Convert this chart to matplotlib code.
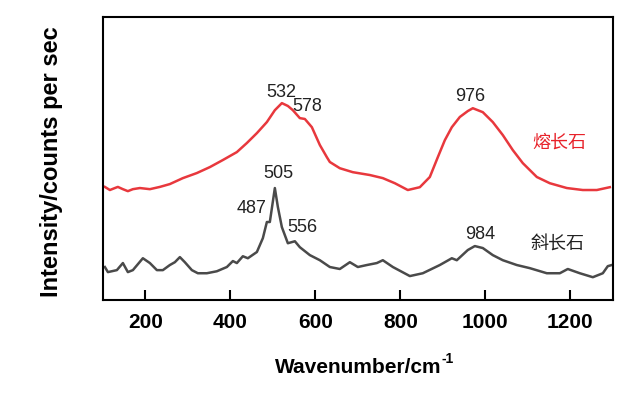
import matplotlib
matplotlib.use("Agg")
import matplotlib.pyplot as plt

plt.rcParams['font.family'] = ['Liberation Sans', 'Noto Sans CJK SC', 'DejaVu Sans']

# Red curve (熔长石)
red_wn = [104.7, 116.5, 128.2, 135.3, 147.1, 158.8, 170.6, 187.1, 210.6, 234.1, 257.6,
          288.2, 321.2, 351.8, 382.4, 415.3, 438.8, 462.4, 485.9, 504.7, 521.2, 535.3,
          547.1, 563.5, 575.3, 591.8, 610.6, 627.1, 634.1, 657.6, 688.2, 728.2, 758.8,
          787.1, 817.6, 845.9, 869.4, 888.2, 904.7, 921.2, 940.0, 958.8, 970.6, 994.1,
          1017.6, 1041.2, 1064.7, 1088.2, 1121.2, 1151.8, 1191.8, 1229.4, 1262.4, 1293.0]
red_int = [40.0, 38.9, 39.6, 40.0, 39.2, 38.5, 39.2, 39.6, 39.2, 40.0, 41.0,
           43.1, 44.9, 47.0, 49.5, 52.3, 55.5, 59.0, 62.9, 67.1, 69.6, 68.6,
           67.1, 64.3, 64.0, 61.1, 54.8, 50.5, 48.8, 46.6, 45.2, 44.2, 43.1,
           41.3, 38.9, 39.9, 43.5, 50.5, 56.5, 61.1, 64.7, 66.8, 67.8, 66.4,
           62.9, 58.3, 53.0, 48.4, 43.5, 41.3, 39.6, 38.9, 38.9, 39.9]

# Gray curve (斜长石)
gray_wn = [104.7, 111.8, 132.9, 147.1, 158.8, 170.6, 194.1, 210.6, 227.1, 241.2, 257.6,
           269.4, 281.2, 292.9, 309.4, 323.5, 344.7, 368.2, 391.8, 405.9, 415.3, 429.4,
           441.2, 462.4, 476.5, 485.9, 492.9, 504.7, 511.8, 521.2, 535.3, 551.8, 563.5,
           587.1, 610.6, 634.1, 657.6, 681.2, 700.0, 721.2, 744.7, 758.8, 782.4, 822.4,
           852.9, 892.9, 921.2, 932.9, 958.8, 975.3, 994.1, 1017.6, 1041.2, 1074.1,
           1104.7, 1144.7, 1175.3, 1194.1, 1222.4, 1253.0, 1276.5, 1288.2, 1297.6]
gray_int = [11.7, 9.9, 10.6, 13.1, 9.9, 10.6, 14.8, 13.1, 10.6, 10.6, 12.4,
            13.4, 15.2, 13.4, 10.6, 9.5, 9.5, 10.2, 11.7, 13.8, 13.1, 15.5,
            14.8, 17.0, 21.9, 27.6, 27.6, 39.6, 32.9, 25.8, 20.1, 20.8, 18.7,
            15.9, 14.1, 11.7, 11.0, 13.4, 11.7, 12.4, 13.1, 14.1, 11.7, 8.5,
            9.5, 12.4, 14.8, 14.1, 17.7, 19.1, 18.4, 15.9, 14.1, 12.4,
            11.3, 9.5, 9.5, 11.0, 9.5, 8.1, 9.5, 12.0, 12.4]

red_labels = ["532", "578", "976"]
red_label_x = [519, 582, 963.5]
red_label_y = [73.5, 68.5, 72.1]
gray_labels = ["505", "487", "556", "984"]
gray_label_x = [512, 450.6, 570.6, 987]
gray_label_y = [44.9, 32.5, 25.6, 23.3]
red_name, red_name_xy = "熔长石", (1175, 55.8)
gray_name, gray_name_xy = "斜长石", (1170.6, 19.8)

xticks = [200, 400, 600, 800, 1000, 1200]

fig = plt.figure(figsize=(6.39, 3.97), dpi=100)
ax = fig.add_axes([0.161, 0.244, 0.798, 0.713])

red_c = '#e8383d'
gray_c = '#4a4a4a'
ax.plot(red_wn, red_int, color=red_c, lw=1.8, solid_joinstyle='round')
ax.plot(gray_wn, gray_int, color=gray_c, lw=1.8, solid_joinstyle='round')

for t, x, y in zip(red_labels, red_label_x, red_label_y):
    ax.text(x, y, t, ha='center', va='center', fontsize=13, color='#222222')
for t, x, y in zip(gray_labels, gray_label_x, gray_label_y):
    ax.text(x, y, t, ha='center', va='center', fontsize=13, color='#222222')
ax.text(*red_name_xy, red_name, ha='center', va='center', fontsize=13, color='#e8222a',
        family=['Noto Sans CJK SC'])
ax.text(*gray_name_xy, gray_name, ha='center', va='center', fontsize=13, color='#222222',
        family=['Noto Sans CJK SC'])

ax.set_xlim(100, 1300)
ax.set_ylim(0, 100)
ax.set_xticks(xticks)
ax.set_yticks([])
ax.tick_params(axis='x', direction='in', length=7, width=1.5, pad=9, labelsize=15)
for lab in ax.get_xticklabels():
    lab.set_fontweight('bold')
for s in ax.spines.values():
    s.set_linewidth(1.5)

xl = ax.set_xlabel('Wavenumber/cm', fontsize=15, fontweight='bold', labelpad=19)
ax.annotate('-1', xy=(1, 0.6), xycoords=xl, xytext=(0.3, 0), textcoords='offset points',
            fontsize=10, fontweight='bold', ha='left', va='bottom')
ax.set_ylabel('Intensity/counts per sec', fontsize=17, fontweight='bold')
ax.yaxis.set_label_coords(-0.078, 0.49)

fig.savefig('out.png', dpi=100)
